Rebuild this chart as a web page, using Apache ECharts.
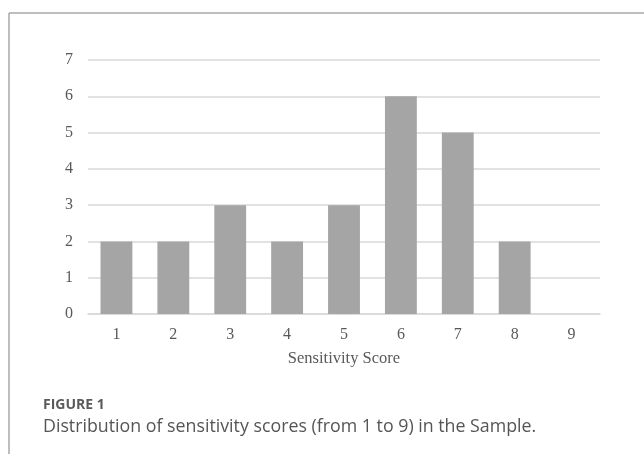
<!DOCTYPE html>
<html><head><meta charset="utf-8">
<script src="https://cdn.jsdelivr.net/npm/echarts@6/dist/echarts.min.js"></script>
<style>html,body{margin:0;padding:0;background:#fff}#c{width:644px;height:454px}</style>
</head><body><div id="c"></div>
<script>
const categories = ['1','2','3','4','5','6','7','8','9'];
const counts = [2, 2, 3, 2, 3, 6, 5, 2, 0];
const yTicks = [0, 7, 1];
const chart = echarts.init(document.getElementById('c'));
chart.setOption({
  animation: false,
  backgroundColor: '#fff',
  grid: { left: 88, right: 44, top: 60, bottom: 140 },
  xAxis: {
    type: 'category', data: categories,
    name: 'Sensitivity Score', nameLocation: 'middle', nameGap: 36,
    nameTextStyle: { fontFamily: 'Liberation Serif', fontSize: 16.5, color: '#595959' },
    axisLine: { lineStyle: { color: '#d9d9d9', width: 1.5 } },
    axisTick: { show: false },
    axisLabel: { fontFamily: 'Liberation Serif', fontSize: 16, color: '#595959', margin: 13 }
  },
  yAxis: {
    type: 'value', min: yTicks[0], max: yTicks[1], interval: yTicks[2],
    axisLine: { show: false }, axisTick: { show: false },
    splitLine: { lineStyle: { color: '#d9d9d9', width: 1.5 } },
    axisLabel: { fontFamily: 'Liberation Serif', fontSize: 16, color: '#595959', margin: 15 }
  },
  series: [{
    type: 'bar', data: counts, barCategoryGap: '44%',
    itemStyle: { color: '#a5a5a5' }
  }],
  graphic: [
    { type: 'line', shape: { x1: 9, y1: 13, x2: 644, y2: 13 }, style: { stroke: '#a8a8a8', lineWidth: 1.5 } },
    { type: 'line', shape: { x1: 9, y1: 13, x2: 9, y2: 454 }, style: { stroke: '#a8a8a8', lineWidth: 1.5 } },
    { type: 'text', left: 43, top: 398, style: { text: 'FIGURE 1', font: 'bold 14px "Open Sans"', fill: '#5a5a5a' } },
    { type: 'text', left: 43, top: 418, style: { text: 'Distribution of sensitivity scores (from 1 to 9) in the Sample.', font: '17.8px "Open Sans"', fill: '#555555' } }
  ]
});
</script>
</body></html>
